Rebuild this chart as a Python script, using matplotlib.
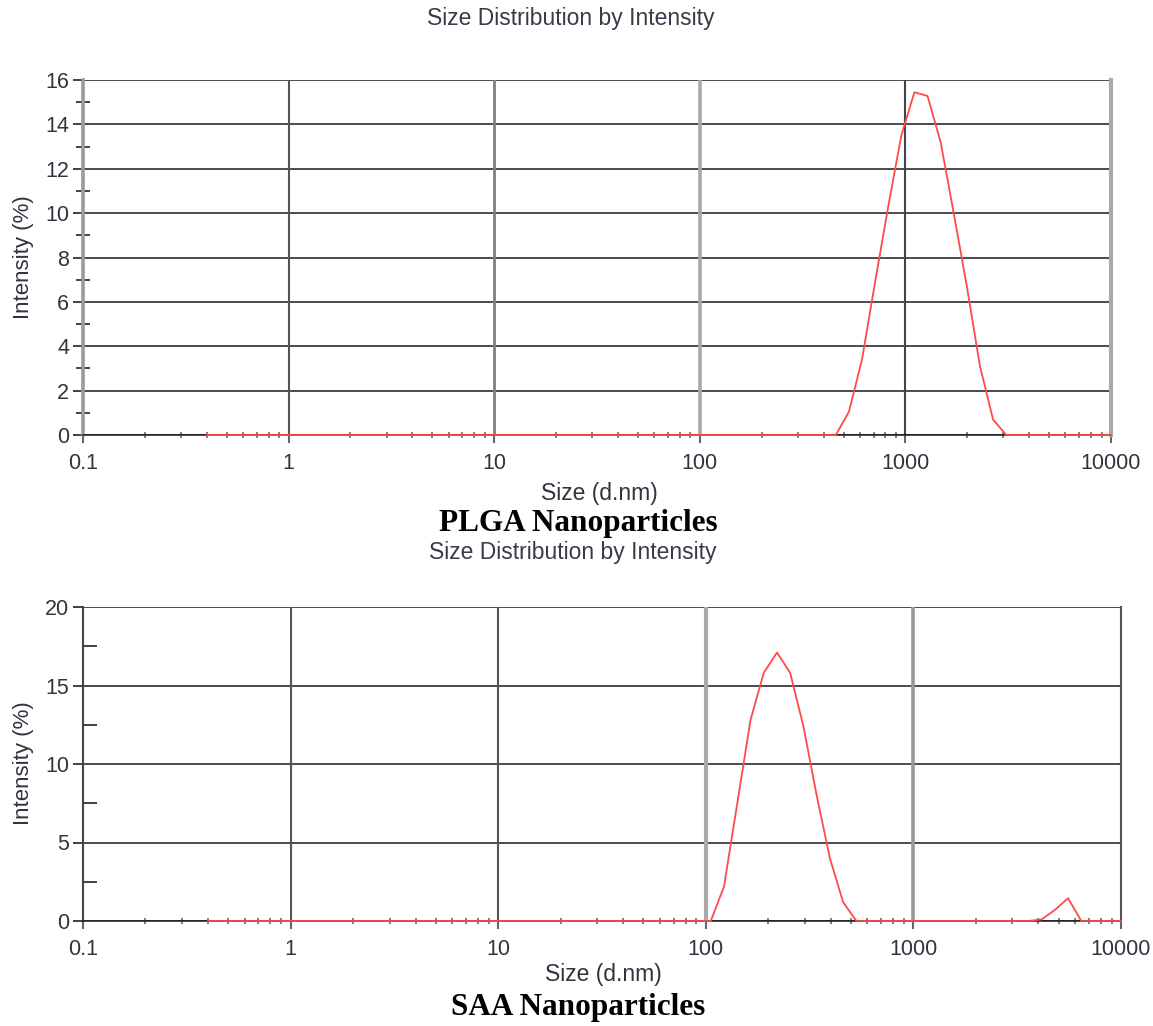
import matplotlib
matplotlib.use("Agg")
import matplotlib.pyplot as plt
from matplotlib.ticker import FixedLocator, LogLocator, NullFormatter

# Zetasizer size bins (d.nm)
sizes = [0.4, 0.4632, 0.5365, 0.6213, 0.7195, 0.8332, 0.9649, 1.117, 1.294, 1.499,
         1.736, 2.010, 2.328, 2.696, 3.122, 3.615, 4.187, 4.849, 5.615, 6.503,
         7.531, 8.721, 10.10, 11.70, 13.54, 15.69, 18.17, 21.04, 24.36, 28.21,
         32.67, 37.84, 43.82, 50.75, 58.77, 68.06, 78.82, 91.28, 105.7, 122.4,
         141.8, 164.2, 190.1, 220.2, 255.0, 295.3, 342.0, 396.1, 458.7, 531.2,
         615.1, 712.4, 825.0, 955.4, 1106, 1281, 1484, 1718, 1990, 2305,
         2669, 3091, 3580, 4145, 4801, 5560, 6439, 7456, 8635, 10000]

# intensity (%) per bin
plga = [0, 0, 0, 0, 0, 0, 0, 0, 0, 0,
        0, 0, 0, 0, 0, 0, 0, 0, 0, 0,
        0, 0, 0, 0, 0, 0, 0, 0, 0, 0,
        0, 0, 0, 0, 0, 0, 0, 0, 0, 0,
        0, 0, 0, 0, 0, 0, 0, 0, 0, 1.05,
        3.4, 6.9, 10.3, 13.5, 15.45, 15.28, 13.2, 10.0, 6.7, 3.1,
        0.7, 0, 0, 0, 0, 0, 0, 0, 0, 0]

saa = [0, 0, 0, 0, 0, 0, 0, 0, 0, 0,
       0, 0, 0, 0, 0, 0, 0, 0, 0, 0,
       0, 0, 0, 0, 0, 0, 0, 0, 0, 0,
       0, 0, 0, 0, 0, 0, 0, 0, 0, 2.2,
       7.5, 12.8, 15.8, 17.1, 15.8, 12.4, 8.0, 4.0, 1.2, 0,
       0, 0, 0, 0, 0, 0, 0, 0, 0, 0,
       0, 0, 0, 0.1, 0.7, 1.45, 0, 0, 0, 0]

decades = [0.1, 1, 10, 100, 1000, 10000]
decade_labels = ["0.1", "1", "10", "100", "1000", "10000"]

W, H = 1153, 1026
SANS = "Liberation Sans"
SERIF = "Liberation Serif"
TXT = "#333340"


def px_box(left, top, right, bottom):
    return [left / W, 1 - bottom / H, (right - left) / W, (bottom - top) / H]


def draw_panel(ax, y, ymax, ystep, vstyles, lspine, rspine, minor_dir):
    ax.set_xscale("log")
    ax.set_xlim(0.1, 10000)
    ax.set_ylim(0, ymax)

    # horizontal grid
    for v in range(0, ymax + 1, ystep):
        ax.axhline(v, color="#1a1a1a", lw=1.1, zorder=1)
    # vertical decade lines, each drawn a little differently
    for d, (c, w) in zip(decades[1:-1], vstyles):
        ax.axvline(d, color=c, lw=w, zorder=1)

    ax.plot(sizes, y, color="#ff4a4a", lw=1.3, zorder=3, clip_on=False)

    ax.spines["top"].set_visible(False)
    ax.spines["bottom"].set_color("#1a1a1a")
    ax.spines["bottom"].set_linewidth(1.1)
    ax.spines["left"].set_color(lspine[0])
    ax.spines["left"].set_linewidth(lspine[1])
    ax.spines["right"].set_color(rspine[0])
    ax.spines["right"].set_linewidth(rspine[1])

    ax.xaxis.set_major_locator(FixedLocator(decades))
    ax.set_xticklabels(decade_labels)
    ax.xaxis.set_minor_locator(LogLocator(base=10, subs=range(2, 10)))
    ax.xaxis.set_minor_formatter(NullFormatter())
    ax.tick_params(axis="x", which="major", direction="out", length=6,
                   width=1.5, color="#666666", pad=7, labelsize=15.5,
                   labelcolor=TXT)
    ax.tick_params(axis="x", which="minor", direction="inout", length=5,
                   width=1.3, color="#777777")

    ax.set_yticks(range(0, ymax + 1, ystep))
    ax.set_yticks([v + ystep / 2 for v in range(0, ymax, ystep)], minor=True)
    ax.tick_params(axis="y", which="major", direction="out", length=7,
                   width=1.2, color="#222222", pad=3, labelsize=15.5,
                   labelcolor=TXT)
    ax.tick_params(axis="y", which="minor", direction=minor_dir, length=10,
                   width=1.2, color="#222222")
    for lab in ax.get_xticklabels() + ax.get_yticklabels():
        lab.set_fontfamily(SANS)


fig = plt.figure(figsize=(W / 100, H / 100), dpi=100)

ax1 = fig.add_axes(px_box(83, 80, 1111, 435))
draw_panel(ax1, plga, 16, 2,
           [("#555555", 1.5), ("#808080", 2.0), ("#aaaaaa", 2.6), ("#444444", 1.5)],
           ("#9a9a9a", 2.6), ("#aaaaaa", 3.0), "inout")

ax2 = fig.add_axes(px_box(83, 607, 1121, 921))
draw_panel(ax2, saa, 20, 5,
           [("#555555", 1.5), ("#555555", 1.5), ("#aaaaaa", 3.0), ("#999999", 2.6)],
           ("#444444", 1.5), ("#555555", 1.5), "in")


def ftext(x, y, s, **kw):
    fig.text(x / W, 1 - y / H, s, ha="center", va="center", **kw)


ftext(571, 18, "Size Distribution by Intensity", fontsize=16.5, color="#3a3a48", family=SANS)
ftext(573, 552, "Size Distribution by Intensity", fontsize=16.5, color="#3a3a48", family=SANS)
ftext(599, 494, "Size (d.nm)", fontsize=16.5, color=TXT, family=SANS)
ftext(603, 974, "Size (d.nm)", fontsize=16.5, color=TXT, family=SANS)
ftext(23, 257, "Intensity (%)", fontsize=16, color=TXT, family=SANS, rotation=90)
ftext(23, 763, "Intensity (%)", fontsize=16, color=TXT, family=SANS, rotation=90)
ftext(578, 524, "PLGA Nanoparticles", fontsize=22.5, fontweight="bold", color="black", family=SERIF)
ftext(578, 1007, "SAA Nanoparticles", fontsize=22.5, fontweight="bold", color="black", family=SERIF)

fig.savefig("out.png", dpi=100)
